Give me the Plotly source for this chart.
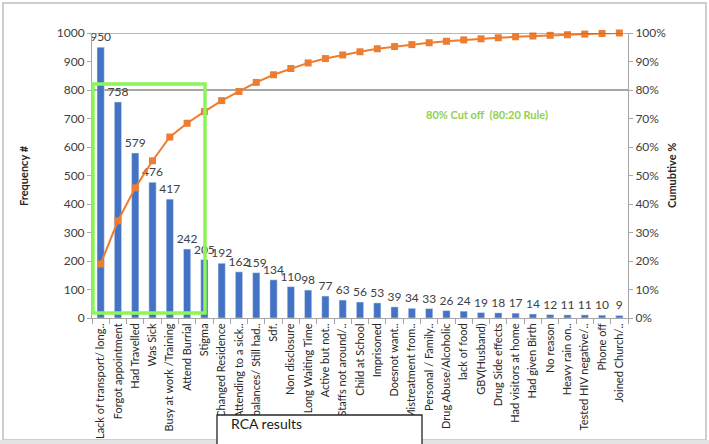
import plotly.graph_objects as go

categories = [
    "Lack of transport/ long..", "Forgot appointment", "Had Travelled", "Was Sick",
    "Busy at work /Training", "Attend Burrial", "Stigma", "Changed Residence",
    "Attending to a sick..", "ill balances/ Still had..", "Sdf.", "Non disclosure",
    "Long Waiting Time", "Active but not..", "Staffs not around/..", "Child at School",
    "Imprisoned", "Doesnot want..", "Mistreatment from..", "Personal / Family..",
    "Drug Abuse/Alcoholic", "lack of food", "GBV(Husband)", "Drug Side effects",
    "Had visitors at home", "Had given Birth", "No reason", "Heavy rain on..",
    "Tested HIV negative/..", "Phone off", "Joined Church/..",
]
frequency = [950, 758, 579, 476, 417, 242, 205, 192, 162, 159, 134, 110, 98, 77, 63, 56,
             53, 39, 34, 33, 26, 24, 19, 18, 17, 14, 12, 11, 11, 10, 9]
cumulative_pct = [18.97, 34.11, 45.67, 55.17, 63.50, 68.33, 72.42, 76.26, 79.49, 82.67,
                  85.34, 87.54, 89.50, 91.03, 92.29, 93.41, 94.47, 95.25, 95.93, 96.59,
                  97.10, 97.58, 97.96, 98.32, 98.66, 98.94, 99.18, 99.40, 99.62, 99.82, 100.0]
left_ticks = list(range(0, 1001, 100))
right_ticks = [i / 10 for i in range(0, 11)]

FONT = "Lato"
L, R, T, B = 92, 81, 33, 126
W, H = 709, 444
PW, PH = W - L - R, H - T - B

def px(xp):
    return (xp - L) / PW

def py(yp):
    return (H - B - yp) / PH

fig = go.Figure()
fig.add_trace(go.Bar(
    x=categories, y=frequency, marker_color="#4472C4", text=frequency,
    textposition="outside", constraintext="none", cliponaxis=False,
    textfont=dict(size=12, color="#404040", family=FONT), name="Frequency",
))
fig.add_trace(go.Scatter(
    x=categories, y=[v / 100 for v in cumulative_pct], yaxis="y2", mode="lines+markers",
    line=dict(color="#ED7D31", width=2), marker=dict(symbol="square", size=7, color="#ED7D31"),
    name="Cumulative", cliponaxis=False,
))

axis_common = dict(showline=True, linecolor="#A6A6A6", ticks="outside", ticklen=4,
                   tickcolor="#A6A6A6", showgrid=False, zeroline=False, automargin=False,
                   tickfont=dict(size=12, color="#404040", family=FONT))
fig.update_layout(
    width=W, height=H, margin=dict(l=L, r=R, t=T, b=B, autoexpand=False),
    paper_bgcolor="white", plot_bgcolor="white", showlegend=False, bargap=0.58,
    font=dict(family=FONT),
    xaxis=dict(showline=True, linecolor="#A6A6A6", ticks="outside", ticklen=5,
               tickcolor="#A6A6A6", tickson="boundaries", tickangle=-90, automargin=False,
               range=[-0.5, len(categories) - 0.5], autorange=False,
               tickfont=dict(size=11, color="#262626", family=FONT), showgrid=False),
    yaxis=dict(range=[0, 1000], tickvals=left_ticks, **axis_common),
    yaxis2=dict(range=[0, 1], tickvals=right_ticks, tickformat=".0%", overlaying="y",
                side="right", **axis_common),
)

shapes = [
    # outer frame
    dict(type="rect", xref="paper", yref="paper", x0=px(3), x1=px(706), y0=py(440), y1=py(3),
         line=dict(color="#BFBFBF", width=1.5), layer="below"),
    # bottom grey strip
    dict(type="rect", xref="paper", yref="paper", x0=px(0), x1=px(709), y0=py(444), y1=py(440),
         line=dict(width=0), fillcolor="#E3E3E3", layer="below"),
    # 100% line
    dict(type="line", xref="paper", yref="y", x0=0, x1=1, y0=1000, y1=1000,
         line=dict(color="#4472C4", width=1)),
    # 80% line
    dict(type="line", xref="paper", yref="y", x0=0, x1=1, y0=800, y1=800,
         line=dict(color="#A6A6A6", width=2), layer="below"),
    # green cut-off box
    dict(type="rect", xref="paper", yref="paper", x0=px(93), x1=px(205), y0=py(313), y1=py(84),
         line=dict(color="#8CF55A", width=3.5)),
    # RCA box
    dict(type="rect", xref="paper", yref="paper", x0=px(217), x1=px(422), y0=py(460), y1=py(415),
         line=dict(color="#262626", width=1.3), fillcolor="white"),
]
fig.update_layout(shapes=shapes)

fig.add_annotation(xref="paper", yref="paper", x=px(15), y=0.5, text="<b>Frequency #</b>",
                   textangle=-90, showarrow=False, font=dict(size=11, color="#262626", family=FONT))
fig.add_annotation(xref="paper", yref="paper", x=px(680), y=0.5, text="<b>Cumubtive %</b>",
                   textangle=-90, showarrow=False, font=dict(size=11, color="#262626", family=FONT))
fig.add_annotation(xref="paper", yref="paper", x=px(550), y=py(106),
                   text="<b>80% Cut off  (80:20 Rule)</b>", showarrow=False,
                   font=dict(size=11, color="#92D050", family=FONT))
fig.add_annotation(xref="paper", yref="paper", x=px(229), y=py(434), xanchor="left",
                   text="RCA results", showarrow=False,
                   font=dict(size=14, color="#1A1A1A", family=FONT))

fig.write_html("out.html", config={"displayModeBar": False},
               post_script="document.body.style.margin='0';")
